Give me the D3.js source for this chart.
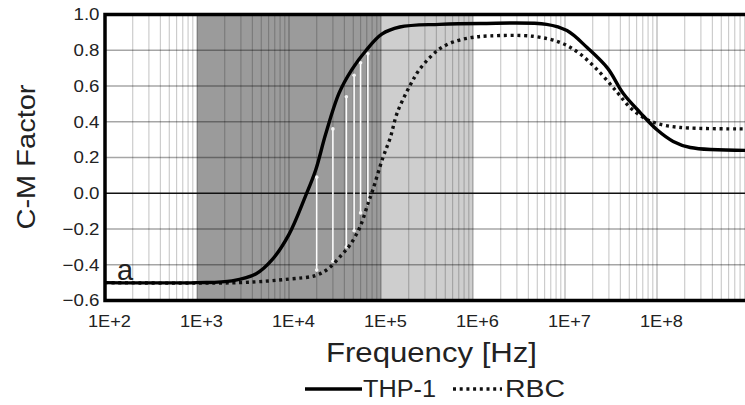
<!DOCTYPE html>
<html>
<head>
<meta charset="utf-8">
<script src="https://cdn.jsdelivr.net/npm/d3@7"></script>
<style>
  body { margin: 0; background: #fff; }
  svg { display: block; font-family: "Liberation Sans", Arial, sans-serif; }
</style>
</head>
<body>
<div id="chart"></div>
<script>
// C-M factor curves (frequency in Hz)
const thpFreq = [1e2, 1e3, 2.4e3, 4.4e3, 6.6e3, 1e4, 1.5e4, 1.95e4, 2.5e4, 3.5e4, 4.8e4, 6.9e4, 1.02e5, 1.6e5, 4.3e5, 1.2e6, 6.3e6, 1.05e7, 1.74e7, 2.9e7, 4.3e7, 6.6e7, 1e8, 1.5e8, 2.3e8, 9.1e8];
const thpCM   = [-0.50, -0.50, -0.49, -0.45, -0.37, -0.23, -0.02, 0.13, 0.33, 0.56, 0.69, 0.80, 0.89, 0.93, 0.945, 0.95, 0.945, 0.91, 0.815, 0.70, 0.558, 0.45, 0.355, 0.29, 0.256, 0.24];

const rbcFreq = [1e2, 2.9e3, 1e4, 1.95e4, 2.7e4, 3.8e4, 4.6e4, 5.9e4, 7.2e4, 8.1e4, 1.05e5, 1.26e5, 1.5e5, 2.1e5, 2.6e5, 3.4e5, 4.4e5, 6e5, 9.3e5, 1.5e6, 4.5e6, 8.9e6, 1.45e7, 2.4e7, 3.7e7, 5.1e7, 7.1e7, 1e8, 1.8e8, 9.1e8];
const rbcCM   = [-0.50, -0.50, -0.48, -0.46, -0.42, -0.34, -0.29, -0.19, -0.06, 0.015, 0.20, 0.31, 0.45, 0.61, 0.69, 0.76, 0.81, 0.845, 0.87, 0.88, 0.878, 0.843, 0.78, 0.675, 0.564, 0.48, 0.424, 0.39, 0.368, 0.36];

// white difference markers between the two curves
const diffFreq   = [2.0e4, 3.0e4, 4.2e4, 5.1e4, 6.0e4, 7.2e4];
const diffTop    = [0.09, 0.36, 0.54, 0.66, 0.73, 0.78];
const diffBottom = [-0.43, -0.38, -0.30, -0.21, -0.11, -0.06];

// shaded frequency bands
const bandStart = [1e3, 1e5];
const bandEnd   = [1e5, 1e6];
const bandFill  = ["#9b9b9b", "#cecece"];

const xTicks = [1e2, 1e3, 1e4, 1e5, 1e6, 1e7, 1e8];
const xTickLabels = ["1E+2", "1E+3", "1E+4", "1E+5", "1E+6", "1E+7", "1E+8"];
const yTicks = [1.0, 0.8, 0.6, 0.4, 0.2, 0.0, -0.2, -0.4, -0.6];

const seriesNames = ["THP-1", "RBC"];

const width = 745, height = 405;
const plotLeft = 105, plotTop = 14.5, plotBottom = 300.5;

const svg = d3.select("#chart").append("svg")
    .attr("width", width)
    .attr("height", height);

const x = d3.scaleLog().domain([1e2, 1e9]).range([plotLeft, plotLeft + 7 * 92]);
const y = d3.scaleLinear().domain([-0.6, 1.0]).range([plotBottom, plotTop]);

const plot = svg.append("g");

// bands
plot.selectAll(".band")
    .data(bandStart)
    .enter().append("rect")
    .attr("x", d => x(d))
    .attr("y", plotTop)
    .attr("width", (d, i) => x(bandEnd[i]) - x(d))
    .attr("height", plotBottom - plotTop)
    .attr("fill", (d, i) => bandFill[i]);

// vertical log gridlines
const minor = [];
for (let e = 2; e <= 8; e++) {
    for (let k = 1; k <= 9; k++) minor.push(k * Math.pow(10, e));
}
plot.selectAll(".vgrid")
    .data(minor.filter(d => x(d) > plotLeft + 1 && x(d) < width))
    .enter().append("line")
    .attr("x1", d => x(d)).attr("x2", d => x(d))
    .attr("y1", plotTop).attr("y2", plotBottom)
    .attr("stroke", "#000")
    .attr("stroke-opacity", d => (Math.abs(Math.log10(d) - Math.round(Math.log10(d))) < 1e-9 ? 0.3 : 0.2))
    .attr("stroke-width", 1.2);

// horizontal gridlines
plot.selectAll(".hgrid")
    .data(yTicks.filter(d => d !== 0 && d !== 1 && d !== -0.6))
    .enter().append("line")
    .attr("x1", plotLeft).attr("x2", width)
    .attr("y1", d => y(d)).attr("y2", d => y(d))
    .attr("stroke", "#000")
    .attr("stroke-opacity", 0.35)
    .attr("stroke-width", 1.6);

// zero line
plot.append("line")
    .attr("x1", plotLeft).attr("x2", width)
    .attr("y1", y(0)).attr("y2", y(0))
    .attr("stroke", "#111")
    .attr("stroke-width", 1.6);

// white difference lines
plot.selectAll(".diff")
    .data(diffFreq)
    .enter().append("line")
    .attr("x1", d => x(d)).attr("x2", d => x(d))
    .attr("y1", (d, i) => y(diffTop[i]))
    .attr("y2", (d, i) => y(diffBottom[i]))
    .attr("stroke", "#fff")
    .attr("stroke-width", 1.6);
plot.selectAll(".diffdot")
    .data(diffFreq.concat(diffFreq))
    .enter().append("circle")
    .attr("cx", d => x(d))
    .attr("cy", (d, i) => i < diffFreq.length ? y(diffTop[i]) : y(diffBottom[i - diffFreq.length]))
    .attr("r", 1.8)
    .attr("fill", "#f4f4f4");

const line = d3.line()
    .x(d => x(d[0]))
    .y(d => y(d[1]))
    .curve(d3.curveCatmullRom.alpha(0.5));

const thp = thpFreq.map((f, i) => [f, thpCM[i]]);
const rbc = rbcFreq.map((f, i) => [f, rbcCM[i]]);

plot.append("path")
    .datum(rbc)
    .attr("fill", "none")
    .attr("stroke", "#111")
    .attr("stroke-width", 3.4)
    .attr("stroke-dasharray", "3,3.7")
    .attr("d", line);

plot.append("path")
    .datum(thp)
    .attr("fill", "none")
    .attr("stroke", "#000")
    .attr("stroke-width", 3.4)
    .attr("d", line);

// frame
plot.append("path")
    .attr("d", `M${width},${plotTop} H${plotLeft} V${plotBottom} H${width}`)
    .attr("fill", "none")
    .attr("stroke", "#000")
    .attr("stroke-width", 3.5);

// axes
const xAxis = svg.append("g")
    .attr("transform", `translate(0,${plotBottom})`)
    .call(d3.axisBottom(x).tickValues(xTicks).tickSize(0).tickPadding(14)
        .tickFormat((d, i) => xTickLabels[i]));
xAxis.select(".domain").remove();
xAxis.selectAll("text")
    .attr("dx", 4)
    .attr("textLength", 43)
    .attr("lengthAdjust", "spacingAndGlyphs")
    .style("font-size", "17px")
    .attr("fill", "#222");

const yAxis = svg.append("g")
    .attr("transform", `translate(${plotLeft},0)`)
    .call(d3.axisLeft(y).tickValues(yTicks).tickSize(0).tickPadding(5)
        .tickFormat(d3.format(".1f")));
yAxis.select(".domain").remove();
yAxis.selectAll("text")
    .style("font-size", "17px")
    .attr("fill", "#222")
    .attr("transform", "scale(1.1,1)");

// axis titles
svg.append("text")
    .attr("transform", "translate(35,157) rotate(-90)")
    .attr("text-anchor", "middle")
    .attr("textLength", 145)
    .attr("lengthAdjust", "spacingAndGlyphs")
    .style("font-size", "25px")
    .attr("fill", "#222")
    .text("C-M Factor");

svg.append("text")
    .attr("x", 326)
    .attr("y", 362)
    .attr("textLength", 211)
    .attr("lengthAdjust", "spacingAndGlyphs")
    .style("font-size", "27px")
    .attr("fill", "#222")
    .text("Frequency [Hz]");

// panel letter
svg.append("text")
    .attr("x", 117)
    .attr("y", 280)
    .style("font-size", "29px")
    .attr("fill", "#222")
    .text("a");

// legend
const legend = svg.append("g");
legend.append("line")
    .attr("x1", 305).attr("x2", 362)
    .attr("y1", 389).attr("y2", 389)
    .attr("stroke", "#000").attr("stroke-width", 3.4);
legend.append("text")
    .attr("x", 363).attr("y", 397)
    .attr("textLength", 73).attr("lengthAdjust", "spacingAndGlyphs")
    .style("font-size", "23px").attr("fill", "#222")
    .text(seriesNames[0]);
legend.append("line")
    .attr("x1", 453).attr("x2", 502)
    .attr("y1", 389).attr("y2", 389)
    .attr("stroke", "#111").attr("stroke-width", 3.4)
    .attr("stroke-dasharray", "3,3.7");
legend.append("text")
    .attr("x", 505).attr("y", 397)
    .attr("textLength", 60).attr("lengthAdjust", "spacingAndGlyphs")
    .style("font-size", "23px").attr("fill", "#222")
    .text(seriesNames[1]);
</script>
</body>
</html>
